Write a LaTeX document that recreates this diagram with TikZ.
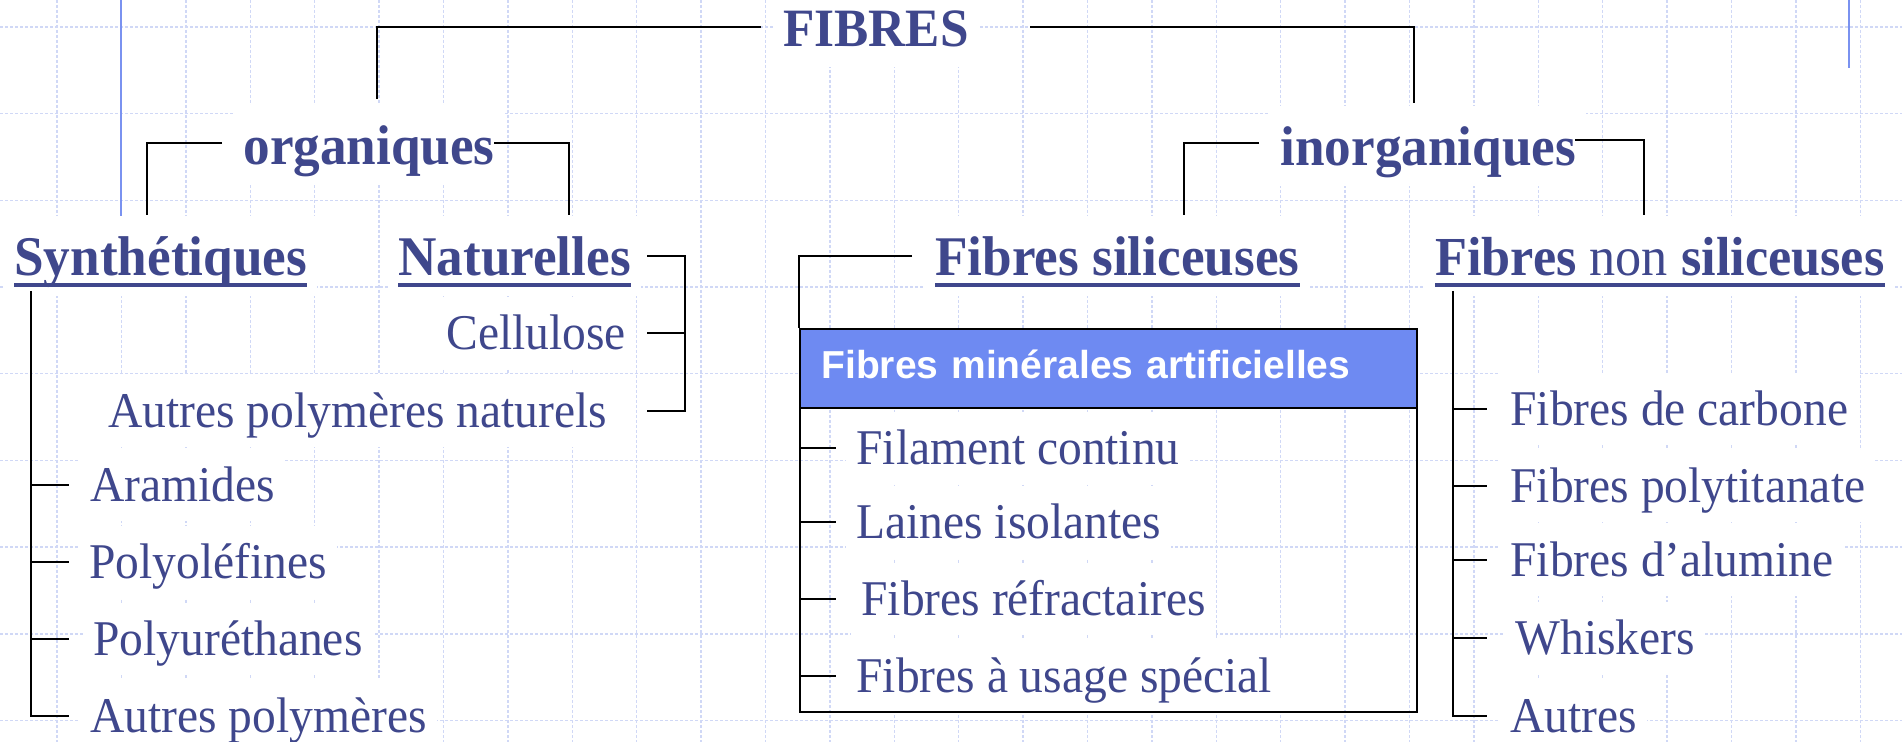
\documentclass[tikz,border=0pt]{standalone}
\usepackage{fontspec}
\setmainfont{Liberation Serif}[FakeStretch=0.95]
\newfontfamily\bandfont{Liberation Sans}

\definecolor{txtblue}{RGB}{63,71,140}
\definecolor{bandblue}{RGB}{110,138,242}
\definecolor{gridblue}{RGB}{208,216,246}
\definecolor{railblue}{RGB}{122,146,240}

\tikzset{
  gridline/.style={gridblue, line width=0.7pt, dash pattern=on 1.5pt off 1pt},
  rail/.style={railblue, line width=0.9pt},
  conn/.style={black, line width=1.1pt},
  uline/.style={txtblue, line width=2pt},
  txt/.style={anchor=base west, fill=white, text=txtblue, inner xsep=5pt, inner ysep=4pt},
  head/.style={txt, font=\bfseries\fontsize{28}{32}\selectfont, text height=26pt, text depth=6pt},
  item/.style={txt, font=\fontsize{25}{30}\selectfont, text height=22.5pt, text depth=5.5pt},
  band/.style={anchor=north west, fill=bandblue, text=white, font=\bandfont\bfseries\fontsize{19.5}{23}\selectfont,
    text width=287pt, align=left, inner xsep=11pt, minimum height=38.5pt, text height=14pt, text depth=4pt},
  fmabox/.style={draw, line width=1.1pt, anchor=north west, minimum width=308.5pt, minimum height=191.5pt, inner sep=0pt}
}

\begin{document}
\begin{tikzpicture}[x=0.5pt, y=-0.5pt]

    % Page and grid
    \fill[white] (0,0) rectangle (1902,742);
    \useasboundingbox (0,0) rectangle (1902,742);
    \foreach \i in {0,...,28}
        \draw[gridline] ({57+64.4*\i},0) -- ++(0,742);
    \foreach \j in {0,...,8}
        \draw[gridline] (0,{27+86.7*\j}) -- ++(1902,0);
    \draw[rail] (121,0) -- (121,216);
    \draw[rail] (1849,0) -- (1849,68);

    % Top levels
    \node[head, font=\bfseries\fontsize{27}{31}\selectfont] (fib) at (773,47) {FIBRES};
    \node[head] (org) at (233,165) {organiques};
    \node[head] (ino) at (1270,166) {inorganiques};

    % Families
    \node[head] (syn) at (4,276) {Synthétiques};
    \node[head] (nat) at (388,276) {Naturelles};
    \node[head] (sil) at (925,276) {Fibres siliceuses};
    \node[head, font=\bfseries\fontsize{27.5}{32}\selectfont] (nsil) at (1425,276) {Fibres {\mdseries non} siliceuses};

    % Naturelles
    \node[item] (cel) at (436,350) {Cellulose};
    \node[item] (apn) at (98,428) {Autres polymères naturels};

    % Synthetiques
    \node[item] (aram) at (80,502) {Aramides};
    \node[item] (polyo) at (79,579) {Polyoléfines};
    \node[item] (polyu) at (83,656) {Polyuréthanes};
    \node[item] (autp) at (80,733) {Autres polymères};

    % Fibres siliceuses box
    \node[band] (fma) at (799,330) {Fibres minérales artificielles};
    \node[item] (fil) at (846,465) {Filament continu};
    \node[item] (lai) at (846,539) {Laines isolantes};
    \node[item] (ref) at (851,616) {Fibres réfractaires};
    \node[item] (usa) at (846,693) {Fibres à usage spécial};
    \node[fmabox] (fbox) at (799,328) {};

    % Fibres non siliceuses
    \node[item] (carb) at (1500,426) {Fibres de carbone};
    \node[item] (poly) at (1500,503) {Fibres polytitanate};
    \node[item] (alum) at (1500,577) {Fibres d’alumine};
    \node[item] (whis) at (1505,655) {Whiskers};
    \node[item] (autr) at (1500,733) {Autres};

    % Underlines
    \foreach \n in {syn,nat,sil,nsil}
        \draw[uline] ([xshift=5pt,yshift=-4.5pt]\n.base west) -- ([xshift=-5pt,yshift=-4.5pt]\n.base east);

    % Bracket ends
    \coordinate (fibL) at (761,27);
    \coordinate (fibR) at (1030,27);
    \coordinate (orgT) at (377,99);
    \coordinate (inoT) at (1414,103);
    \coordinate (orgL) at (222,143);
    \coordinate (orgR) at (494,143);
    \coordinate (inoL) at (1259,143);
    \coordinate (inoR) at (1575,140);
    \coordinate (synB) at (147,215);
    \coordinate (natB) at (569,215);
    \coordinate (silB) at (1184,215);
    \coordinate (nsilB) at (1644,215);
    \coordinate (natL) at (647,0);
    \coordinate (natV) at (685,0);
    \coordinate (synT) at (31,291);
    \coordinate (nsT) at (1453,291);

    % Connectors
    \draw[conn] (fibL) -| (orgT);
    \draw[conn] (fibR) -| (inoT);
    \draw[conn] (orgL) -| (synB);
    \draw[conn] (orgR) -| (natB);
    \draw[conn] (inoL) -| (silB);
    \draw[conn] (inoR) -| (nsilB);

    \draw[conn] (natL |- nat.west) -- (natV |- nat.west) -- (natV |- apn.west) -- (natL |- apn.west);
    \draw[conn] (natV |- cel.west) -- (natL |- cel.west);

    \draw[conn] (synT) -- (synT |- autp.west) -- ++(38,0);
    \foreach \n in {aram,polyo,polyu}
        \draw[conn] (synT |- \n.west) -- ++(38,0);

    \draw[conn] ([xshift=-6.5pt]sil.west) -| (fbox.north west);
    \draw[conn] (fma.south west) -- (fma.south east);
    \foreach \n in {fil,lai,ref,usa}
        \draw[conn] (fbox.west |- \n.west) -- ++(37,0);

    \draw[conn] (nsT) -- (nsT |- autr.west) -- ++(34,0);
    \foreach \n in {carb,poly,alum,whis}
        \draw[conn] (nsT |- \n.west) -- ++(34,0);

\end{tikzpicture}
\end{document}
